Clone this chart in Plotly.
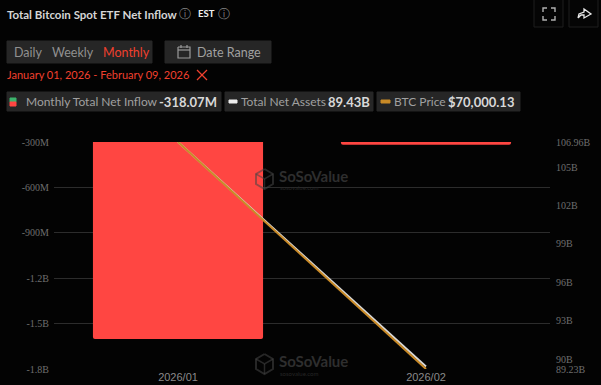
import plotly.graph_objects as go

months = ["2026/01", "2026/02"]
net_inflow_b = [-1.602, -0.31807]
net_assets_b = [106.96, 89.43]
btc_price = [78621.0, 70000.13]

left_ticks = [-0.3, -0.6, -0.9, -1.2, -1.5, -1.8]
left_labels = ["-300M", "-600M", "-900M", "-1.2B", "-1.5B", "-1.8B"]
right_ticks = [89.23, 90, 93, 96, 99, 102, 105, 106.96]
right_labels = ["89.23B", "90B", "93B", "96B", "99B", "102B", "105B", "106.96B"]

W, H = 601, 385
UI = "Lato"
SERIF = "Liberation Serif"

def px(x):
    return x / W

def py(y):
    return 1 - y / H

fig = go.Figure()
fig.add_bar(x=months, y=net_inflow_b, marker=dict(color="#FF4642", line_width=0),
            width=0.686, yaxis="y", showlegend=False)
fig.add_scatter(x=months, y=net_assets_b, mode="lines", yaxis="y2",
                line=dict(color="#D8D8D8", width=2), showlegend=False)
fig.add_scatter(x=months, y=btc_price, mode="lines", yaxis="y3",
                line=dict(color="#C98A27", width=2), showlegend=False)

shapes = []

def box(x0, y0, x1, y1, fill="#262626", line=None):
    shapes.append(dict(type="rect", xref="paper", yref="paper",
                       x0=px(x0), x1=px(x1), y0=py(y1), y1=py(y0),
                       fillcolor=fill, line=dict(color=line or fill, width=1), layer="below"))

def path(points, color, width=1.2):
    d = "M" + " L".join(f"{px(x):.5f},{py(y):.5f}" for x, y in points)
    shapes.append(dict(type="path", xref="paper", yref="paper", path=d,
                       line=dict(color=color, width=width)))

box(7, 41, 152, 63)
box(165, 41, 271, 63)
box(7, 92, 221, 111)
box(225, 92, 373, 111)
box(377, 92, 520, 111)
box(534, -2, 563, 27, fill="#050505", line="#1E1E1E")
box(569, -2, 598, 27, fill="#050505", line="#1E1E1E")
box(10, 98, 16, 102, fill="#3DB46D")
box(10, 102, 16, 106, fill="#FF4642")
box(229, 100, 237, 103, fill="#EDEDED")
box(381, 100, 390, 103, fill="#C98A27")

# close-range cross
path([(197, 70), (207, 80)], "#F0402E")
path([(207, 70), (197, 80)], "#F0402E")
# calendar icon
path([(178, 47), (190, 47), (190, 58), (178, 58), (178, 47)], "#9A9A9A")
path([(178, 50), (190, 50)], "#9A9A9A")
path([(181, 45), (181, 48)], "#9A9A9A")
path([(187, 45), (187, 48)], "#9A9A9A")
# fullscreen corners
for a, b, c in [((543, 12), (543, 8), (547, 8)), ((551, 8), (555, 8), (555, 12)),
                ((555, 16), (555, 20), (551, 20)), ((547, 20), (543, 20), (543, 16))]:
    path([a, b, c], "#B0B0B0", 1.4)
# share arrow
path([(578, 18), (579, 14), (584, 12), (584, 9), (591, 14), (584, 18), (584, 15), (581, 15), (578, 18)],
     "#E8E8E8", 1.3)
# watermark logos
for wy in (179, 364):
    path([(264.5, wy - 10), (273, wy - 5), (273, wy + 5), (264.5, wy + 10),
          (256, wy + 5), (256, wy - 5), (264.5, wy - 10)], "rgba(70,70,70,0.55)", 2)
    path([(256, wy - 5), (264.5, wy), (273, wy - 5)], "rgba(70,70,70,0.55)", 1.5)
    path([(264.5, wy), (264.5, wy + 10)], "rgba(70,70,70,0.55)", 1.5)

annotations = []

def text(x, y, s, size=12, color="#A8A8A8", family=UI, anchor="left"):
    annotations.append(dict(text=s, x=px(x - 2 if anchor == "left" else x), y=py(y), xref="paper", yref="paper",
                            showarrow=False, xanchor=anchor, yanchor="middle",
                            font=dict(size=size, color=color, family=family)))

text(7, 14, "<b>Total Bitcoin Spot ETF Net Inflow</b>", 11.5, "#D5D5D5")
text(198, 13, "<b>EST</b>", 9.5, "#F0F0F0")
text(14, 52, "Daily", 12.5, "#909090")
text(52, 52, "Weekly", 12.5, "#909090")
text(103, 52, "Monthly", 12.5, "#F0402E")
text(197, 52, "Date Range", 12.5, "#A0A0A0")
text(7, 74, "January 01, 2026 - February 09, 2026", 11, "#F0402E")
text(26, 102, "Monthly Total Net Inflow", 12, "#A0A0A0")
text(159, 102, "<b>-318.07M</b>", 13, "#D8D8D8")
text(241, 102, "Total Net Assets", 12, "#A0A0A0")
text(328, 102, "<b>89.43B</b>", 13, "#D8D8D8")
text(394, 102, "BTC Price", 12, "#A0A0A0")
text(448, 102, "<b>$70,000.13</b>", 13, "#D8D8D8")
text(185, 14, "ⓘ", 12, "#808080", "DejaVu Sans", "center")
text(224, 14, "ⓘ", 12, "#808080", "DejaVu Sans", "center")

for wy in (179, 364):
    text(279, wy - 3, "<b>SoSoValue</b>", 15, "#2E2E2E")
    text(280, wy + 9, "sosovalue.com", 6, "#262626")

fig.update_layout(
    width=W, height=H, autosize=False,
    margin=dict(l=0, r=0, t=0, b=0, autoexpand=False),
    paper_bgcolor="#030303", plot_bgcolor="#030303",
    barcornerradius=2,
    shapes=shapes, annotations=annotations,
    xaxis=dict(domain=[px(54), px(550)], type="category", range=[-0.5, 1.5], automargin=False,
               showgrid=False, zeroline=False, showline=False, ticks="",
               tickfont=dict(size=11, color="#8A8A8A", family="Liberation Sans"),
               anchor="y"),
    yaxis=dict(domain=[py(369), py(142)], range=[-1.8, -0.3], automargin=False,
               tickvals=left_ticks, ticktext=left_labels, ticklabelstandoff=4,
               tickfont=dict(size=10, color="#6E6E6E", family=SERIF),
               gridcolor="#2C2C2C", gridwidth=1, zeroline=False, showline=False, ticks=""),
    yaxis2=dict(domain=[py(369), py(142)], range=[89.23, 106.96], overlaying="y", side="right",
                anchor="x", tickvals=right_ticks, ticktext=right_labels, ticklabelstandoff=5,
                automargin=False,
                tickfont=dict(size=10, color="#6E6E6E", family=SERIF),
                showgrid=False, zeroline=False, showline=False, ticks=""),
    yaxis3=dict(domain=[py(369), py(142)], range=[70000.13, 78621.0], overlaying="y",
                side="right", anchor="x", visible=False),
)

fig.write_html(
    "out.html",
    config=dict(displayModeBar=False),
    post_script="document.body.style.margin='0';document.body.style.background='#030303';document.body.style.overflow='hidden';",
)
